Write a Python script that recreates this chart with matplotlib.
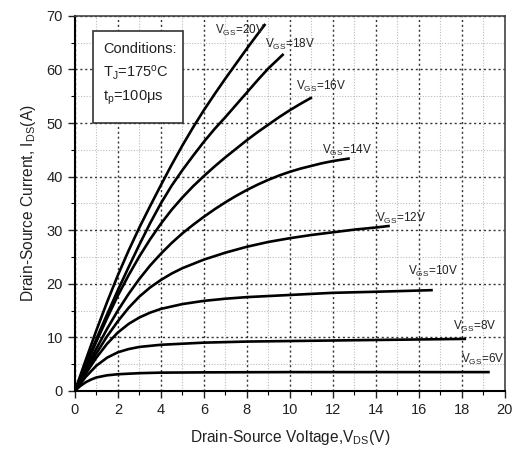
import matplotlib
matplotlib.use("Agg")
import matplotlib.pyplot as plt
from matplotlib.patches import Rectangle
import numpy as np

plt.rcParams['font.family'] = ['Liberation Sans', 'DejaVu Sans']
plt.rcParams['mathtext.fontset'] = 'custom'
plt.rcParams['mathtext.rm'] = 'Liberation Sans'
plt.rcParams['mathtext.it'] = 'Liberation Sans'

# output curves, Vds (V) vs Ids (A)
vgs = [20, 18, 16, 14, 12, 10, 8, 6]
vds = {
    20: [0, 0.5, 1, 1.5, 2, 2.5, 3, 3.5, 4, 4.5, 5, 5.5, 6, 6.5, 7, 7.5, 8, 8.5, 8.86],
    18: [0, 0.5, 1, 1.5, 2, 2.5, 3, 3.5, 4, 4.5, 5, 5.5, 6, 6.5, 7, 7.5, 8, 8.5, 9, 9.5, 9.71],
    16: [0, 0.5, 1, 1.5, 2, 2.5, 3, 3.5, 4, 4.5, 5, 5.5, 6, 6.5, 7, 7.5, 8, 8.5, 9, 9.5, 10, 10.5, 11.03],
    14: [0, 0.5, 1, 1.5, 2, 2.5, 3, 3.5, 4, 4.5, 5, 5.5, 6, 6.5, 7, 7.5, 8, 8.5, 9, 9.5, 10, 10.5, 11, 11.5, 12, 12.79],
    12: [0, 0.5, 1, 1.5, 2, 2.5, 3, 3.5, 4, 4.5, 5, 6, 7, 8, 9, 10, 11, 12, 13, 14, 14.65],
    10: [0, 0.5, 1, 1.5, 2, 2.5, 3, 3.5, 4, 5, 6, 7, 8, 10, 12, 14, 16.65],
    8: [0, 0.5, 1, 1.5, 2, 2.5, 3, 4, 5, 6, 8, 12, 18.2],
    6: [0, 0.25, 0.5, 0.75, 1, 1.5, 2, 3, 4, 6, 10, 19.3],
}
ids = {
    20: [0, 5.7, 11.3, 16.6, 21.6, 26.2, 30.5, 34.5, 38.4, 42.2, 45.8, 49.2, 52.4, 55.4, 58.3, 61.1, 63.9, 66.6, 68.5],
    18: [0, 4.9, 9.7, 14.3, 18.8, 23.1, 27.3, 31.3, 35.0, 38.3, 41.2, 43.9, 46.5, 48.9, 51.1, 53.4, 55.7, 58.0, 60.2, 62.1, 62.9],
    16: [0, 4.6, 9.2, 13.6, 17.8, 21.6, 25.1, 28.3, 31.2, 33.8, 36.1, 38.2, 40.1, 41.9, 43.6, 45.2, 46.8, 48.3, 49.7, 51.1, 52.4, 53.6, 54.8],
    14: [0, 4.0, 7.9, 11.6, 15.0, 18.1, 20.9, 23.4, 25.6, 27.6, 29.4, 31.0, 32.5, 33.9, 35.2, 36.4, 37.5, 38.5, 39.4, 40.2, 40.9, 41.5, 42.0, 42.5, 42.9, 43.4],
    12: [0, 3.6, 7.0, 10.2, 13.0, 15.5, 17.6, 19.3, 20.7, 21.9, 22.9, 24.5, 25.8, 26.9, 27.8, 28.5, 29.1, 29.6, 30.1, 30.5, 30.8],
    10: [0, 3.2, 6.2, 8.8, 10.9, 12.5, 13.7, 14.6, 15.3, 16.2, 16.8, 17.2, 17.5, 17.9, 18.3, 18.5, 18.8],
    8: [0, 2.6, 4.7, 6.2, 7.2, 7.8, 8.2, 8.6, 8.8, 9.0, 9.2, 9.4, 9.7],
    6: [0, 0.9, 1.6, 2.1, 2.5, 2.9, 3.1, 3.3, 3.4, 3.45, 3.5, 3.5],
}
# label positions
lab_x = [6.5, 8.85, 10.3, 11.5, 14.0, 15.5, 17.6, 17.95]
lab_y = [67.2, 64.6, 56.8, 44.9, 32.2, 22.2, 12.1, 5.8]

fig = plt.figure(figsize=(5.13, 4.55), dpi=100)
ax = fig.add_axes([0.146, 0.141, 0.838, 0.824])

for v in vgs:
    ax.plot(vds[v], ids[v], color='black', lw=1.9, solid_capstyle='butt')

for v, lx, ly in zip(vgs, lab_x, lab_y):
    ax.text(lx, ly, r'$\mathregular{V_{GS}}$=%dV' % v, fontsize=8.5,
            color='#222222', va='center', ha='left')

ax.set_xlim(0, 20)
ax.set_ylim(0, 70)
ax.set_xticks(np.arange(0, 21, 2))
ax.set_yticks(np.arange(0, 71, 10))
ax.set_xticks(np.arange(0, 21, 1), minor=True)
ax.set_yticks(np.arange(0, 71, 5), minor=True)
ax.grid(which='major', linestyle=(0, (1.5, 2)), color='#333333', lw=1.0)
ax.grid(which='minor', linestyle=(0, (1, 1.5)), color='#bbbbbb', lw=0.8)
ax.tick_params(which='major', direction='out', length=5, width=1, labelsize=10.5,
               colors='#222222')
ax.tick_params(which='minor', direction='out', length=3, width=0.8)
for s in ['left', 'bottom']:
    ax.spines[s].set_linewidth(1.5)
for s in ['top', 'right']:
    ax.spines[s].set_linewidth(1.2)
    ax.spines[s].set_color('#444444')

ax.set_xlabel(r'Drain-Source Voltage,$\mathregular{V_{DS}}$(V)', fontsize=11.2,
              color='#222222', labelpad=8)
ax.set_ylabel(r'Drain-Source Current, $\mathregular{I_{DS}}$(A)', fontsize=11.2,
              color='#222222', labelpad=6)

# conditions box
ax.add_patch(Rectangle((0.84, 50.1), 4.2, 17.1, fc='white', ec='#333333',
                       lw=1.2, zorder=5))
box_lines = ['Conditions:',
             r'$\mathregular{T_J}$=175$^\mathregular{o}$C',
             r'$\mathregular{t_p}$=100$\mathregular{\mu}$s']
for t, yy in zip(box_lines, [63.9, 59.4, 54.7]):
    ax.text(1.3, yy, t, fontsize=10.5, color='#222222', va='center',
            ha='left', zorder=6)

fig.savefig('out.png', dpi=100)
